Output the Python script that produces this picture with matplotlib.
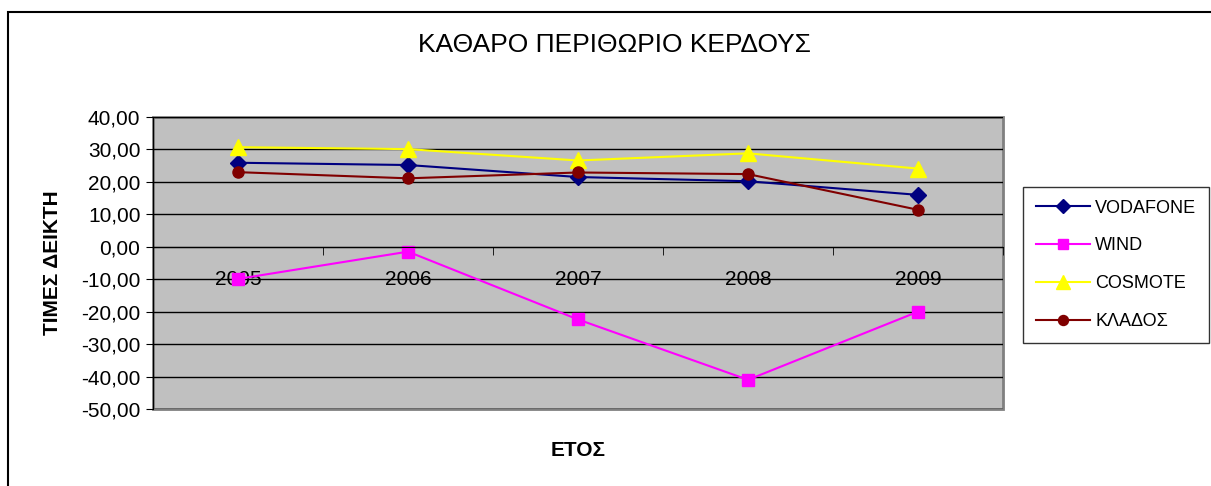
import numpy as np
import matplotlib
matplotlib.use("Agg")
import matplotlib.pyplot as plt
from matplotlib.patches import Rectangle
from matplotlib.ticker import FuncFormatter

plt.rcParams['font.family'] = ['Liberation Sans', 'DejaVu Sans']

# data
years = ["2005", "2006", "2007", "2008", "2009"]
vodafone = [25.9, 25.2, 21.5, 20.2, 16.0]
wind = [-9.9, -1.5, -22.4, -41.0, -20.0]
cosmote = [30.7, 30.1, 26.6, 28.8, 24.1]
klados = [23.0, 21.1, 22.9, 22.4, 11.4]

fig = plt.figure(figsize=(12.11, 4.86), dpi=100)
ax = fig.add_axes([153/1211, 1-409/486, 850/1211, 292/486])
ax.set_facecolor("#C0C0C0")

x = np.arange(len(years))
ax.plot(x, vodafone, color="#000080", marker="D", markersize=8, lw=1.5, label="VODAFONE")
ax.plot(x, wind, color="#FF00FF", marker="s", markersize=8, lw=1.5, label="WIND")
ax.plot(x, cosmote, color="#FFFF00", marker="^", markersize=11, lw=1.5, label="COSMOTE")
ax.plot(x, klados, color="#800000", marker="o", markersize=8, lw=1.5, label="ΚΛΑΔΟΣ")

ax.set_xlim(-0.5, 4.5)
ax.set_ylim(-50, 40)
ax.set_yticks(np.arange(-50, 41, 10))
ax.yaxis.set_major_formatter(FuncFormatter(lambda v, p: f"{v:.2f}".replace(".", ",")))
ax.grid(axis="y", color="black", lw=1)
ax.set_axisbelow(True)

# category axis crosses at zero
ax.spines["bottom"].set_position(("data", 0))
ax.spines["bottom"].set_color("black")
ax.spines["left"].set_color("black")
ax.spines["top"].set_visible(False)
ax.spines["right"].set_visible(False)
ax.add_patch(Rectangle((0, 0), 1, 1, transform=ax.transAxes, fill=False,
                       edgecolor="#808080", lw=2, zorder=0.5, clip_on=False))

ax.set_xticks(x)
ax.set_xticklabels(years)
ax.set_xticks(np.arange(-0.5, 5, 1), minor=True)
ax.tick_params(axis="x", which="major", length=0, pad=17, labelsize=15)
ax.tick_params(axis="x", which="minor", length=6, direction="out", color="black")
ax.tick_params(axis="y", length=5, labelsize=15, pad=4)

ax.set_ylabel("ΤΙΜΕΣ ΔΕΙΚΤΗ", fontsize=15, fontweight="bold", labelpad=14)
fig.text(578/1211, 1-450/486, "ΕΤΟΣ", fontsize=15, fontweight="bold", ha="center", va="center")
fig.text(614/1211, 1-45/486, "ΚΑΘΑΡΟ ΠΕΡΙΘΩΡΙΟ ΚΕΡΔΟΥΣ", fontsize=19, ha="center", va="center")

leg = ax.legend(loc="upper left", bbox_to_anchor=(1023/1211, 1-187/486),
                bbox_transform=fig.transFigure, fontsize=13, frameon=True,
                fancybox=False, edgecolor="black", borderpad=0.7, borderaxespad=0,
                labelspacing=1.15, handlelength=3.0, handletextpad=0.3, markerscale=0.9)
leg.get_frame().set_linewidth(1)

# outer chart frame
fig.patches.append(Rectangle((8/1211, -0.1), 1.2, 1.1 - 12/486, transform=fig.transFigure,
                             fill=False, edgecolor="black", lw=1.5))

fig.savefig("out.png", dpi=100)
